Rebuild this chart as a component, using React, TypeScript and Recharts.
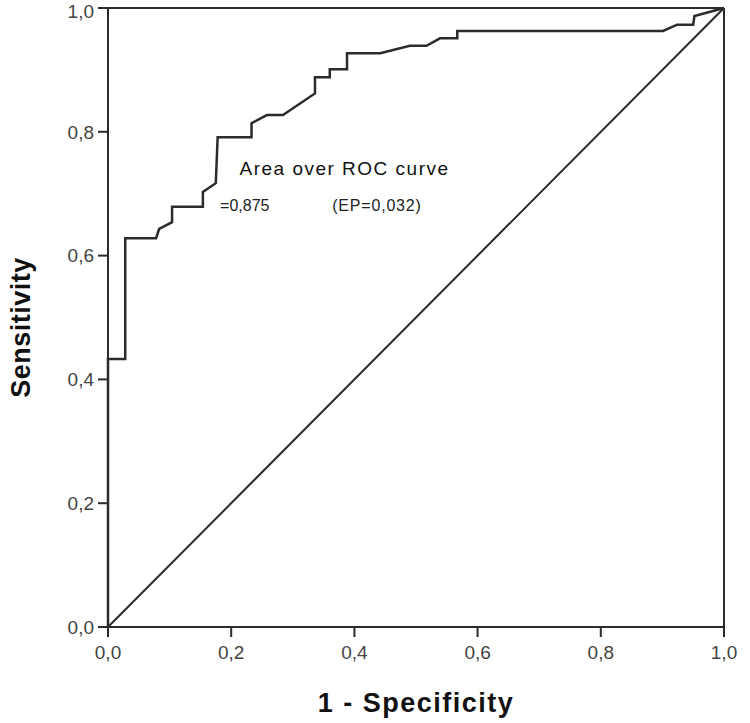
import { LineChart, Line, XAxis, YAxis, ReferenceLine, ReferenceDot } from 'recharts';

// ROC curve points (1 - specificity, sensitivity)
const fpr = [0, 0, 0.028, 0.028, 0.078, 0.083, 0.104, 0.104, 0.154, 0.154, 0.175, 0.178, 0.233, 0.233, 0.258, 0.284, 0.336, 0.336, 0.36, 0.36, 0.388, 0.388, 0.442, 0.49, 0.517, 0.539, 0.567, 0.567, 0.901, 0.924, 0.95, 0.952, 1];
const tpr = [0, 0.433, 0.433, 0.628, 0.628, 0.643, 0.654, 0.679, 0.679, 0.703, 0.717, 0.791, 0.791, 0.814, 0.827, 0.827, 0.862, 0.888, 0.888, 0.901, 0.901, 0.927, 0.927, 0.939, 0.939, 0.951, 0.951, 0.963, 0.963, 0.973, 0.973, 0.987, 1];
const diagonal = [0, 1];
const ticks = [0, 0.2, 0.4, 0.6, 0.8, 1];

const rocData = fpr.map((x, i) => ({ fpr: x, tpr: tpr[i] }));
const diagData = diagonal.map((v) => ({ fpr: v, tpr: v }));

const fmt = (v: number) => v.toFixed(1).replace('.', ',');
const ink = '#2b2b2b';
const font = '"Liberation Sans", Arial, sans-serif';

export default function App() {
  return (
    <div style={{ position: 'absolute', left: 0, top: 0, background: '#fff' }}>
      <LineChart width={750} height={723} margin={{ top: 8, right: 26, bottom: 0, left: 8 }}>
        <XAxis
          type="number"
          dataKey="fpr"
          domain={[0, 1]}
          ticks={ticks}
          tickFormatter={fmt}
          axisLine={{ stroke: ink, strokeWidth: 2 }}
          tickLine={{ stroke: ink, strokeWidth: 2 }}
          tickSize={10}
          tick={{ fill: '#444', fontSize: 19, fontFamily: font, dy: 7 }}
          height={96}
          label={{ value: '1 - Specificity', position: 'insideTop', offset: 66, fill: '#111', fontSize: 27, fontWeight: 'bold', fontFamily: font, letterSpacing: 1.5 }}
        />
        <YAxis
          type="number"
          dataKey="tpr"
          domain={[0, 1]}
          ticks={ticks}
          tickFormatter={fmt}
          axisLine={{ stroke: ink, strokeWidth: 2 }}
          tickLine={{ stroke: ink, strokeWidth: 2 }}
          tickSize={10}
          tick={{ fill: '#444', fontSize: 19, fontFamily: font, dx: -2 }}
          width={100}
          label={{ value: 'Sensitivity', angle: -90, position: 'insideLeft', offset: 12, dy: 10, fill: '#111', fontSize: 27, fontWeight: 'bold', fontFamily: font, letterSpacing: 0.5, style: { textAnchor: 'middle' } }}
        />
        <ReferenceLine y={1} stroke={ink} strokeWidth={2} />
        <ReferenceLine x={1} stroke={ink} strokeWidth={2} />
        <Line data={diagData} dataKey="tpr" type="linear" stroke={ink} strokeWidth={2} dot={false} isAnimationActive={false} />
        <Line data={rocData} dataKey="tpr" type="linear" stroke={ink} strokeWidth={2.5} dot={false} isAnimationActive={false} />
        <ReferenceDot x={0.384} y={0.741} r={0} fill="none" stroke="none"
          label={{ value: 'Area over ROC curve', position: 'center', fill: '#111', fontSize: 19, letterSpacing: 1.5, fontFamily: font }} />
        <ReferenceDot x={0.182} y={0.682} r={0} fill="none" stroke="none"
          label={{ value: '=0,875', position: 'right', offset: 0, fill: '#222', fontSize: 16, fontFamily: font }} />
        <ReferenceDot x={0.364} y={0.682} r={0} fill="none" stroke="none"
          label={{ value: '(EP=0,032)', position: 'right', offset: 0, fill: '#222', fontSize: 16, letterSpacing: 0.8, fontFamily: font }} />
      </LineChart>
    </div>
  );
}
